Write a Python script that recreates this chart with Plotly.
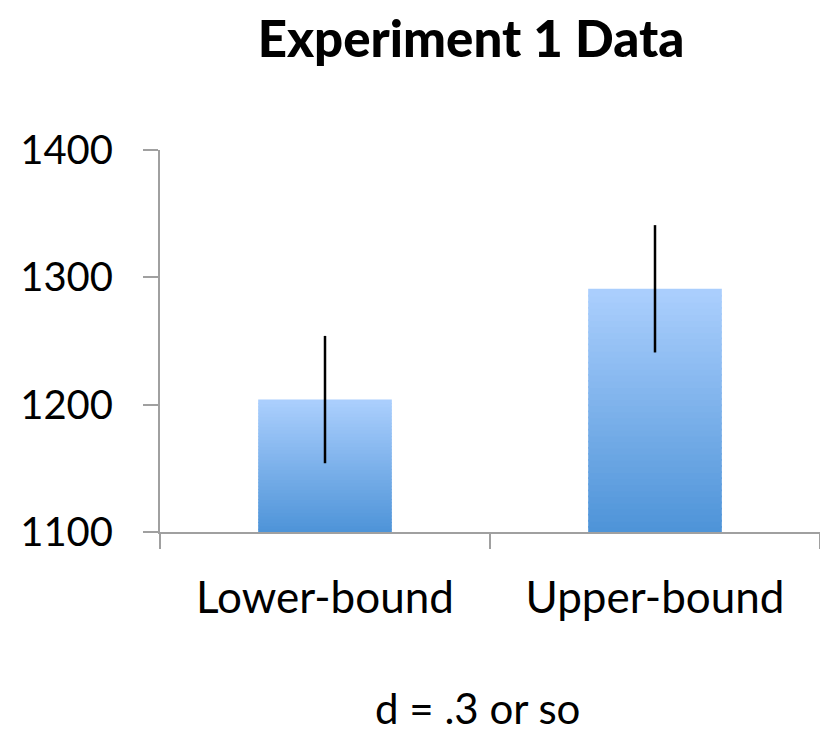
import plotly.graph_objects as go

categories = ["Lower-bound", "Upper-bound"]
means = [1204, 1291]
errors = [50, 50]
y_ticks = [1100, 1200, 1300, 1400]
title_text = "Experiment 1 Data"
x_title = "d = .3 or so"

BASE = 1100
N = 40
top_rgb = (170, 206, 253)
bot_rgb = (78, 148, 216)

fig = go.Figure()
heights = [m - BASE for m in means]
for j in range(N):
    f = j / (N - 1)
    r = round(bot_rgb[0] + (top_rgb[0] - bot_rgb[0]) * f)
    g = round(bot_rgb[1] + (top_rgb[1] - bot_rgb[1]) * f)
    b = round(bot_rgb[2] + (top_rgb[2] - bot_rgb[2]) * f)
    seg = [h / N for h in heights]
    ov = [s * 0.3 if j > 0 else 0 for s in seg]
    fig.add_trace(go.Bar(
        x=categories,
        y=[s + o for s, o in zip(seg, ov)],
        base=[BASE + j * s - o for s, o in zip(seg, ov)],
        marker=dict(color=f"rgb({r},{g},{b})", line=dict(width=0)),
        width=0.405,
        showlegend=False,
        hoverinfo="skip",
    ))

fig.add_trace(go.Scatter(
    x=categories, y=means, mode="markers",
    marker=dict(size=1, color="rgba(0,0,0,0)"),
    error_y=dict(type="data", array=errors, visible=True, color="black",
                 thickness=2.5, width=0),
    showlegend=False,
))

FONT = "Lato"
fig.update_layout(
    width=820, height=734,
    margin=dict(l=160, r=0, t=150, b=202),
    paper_bgcolor="white", plot_bgcolor="white",
    barmode="overlay",
    title=dict(text=title_text, x=471 / 820, xref="container",
               xanchor="center", y=1 - 39 / 734, yref="container", yanchor="middle",
               font=dict(family=FONT, size=51, color="black", weight=900)),
    font=dict(family=FONT, color="black"),
    annotations=[dict(
        text=x_title, xref="paper", yref="paper",
        x=(477 - 160) / 660, y=-(708 - 532) / 382,
        xanchor="center", yanchor="middle", showarrow=False, borderpad=0,
        font=dict(family=FONT, size=42, color="black"),
    )],
)
fig.update_yaxes(
    range=[1100, 1400], tickvals=y_ticks, showgrid=False, zeroline=False,
    showline=True, linecolor="#a0a0a0", linewidth=2,
    ticks="outside", ticklen=15, tickwidth=2, tickcolor="#a0a0a0",
    ticklabelstandoff=22, tickfont=dict(family=FONT, size=40, color="black"),
)
fig.update_xaxes(
    showgrid=False, zeroline=False,
    showline=True, linecolor="#a0a0a0", linewidth=2,
    ticks="outside", ticklen=15, tickwidth=2, tickcolor="#a0a0a0",
    tickson="boundaries", ticklabelstandoff=26,
    tickfont=dict(family=FONT, size=44, color="black"),
)

fig.write_html("out.html", config={"displayModeBar": False},
               post_script="document.body.style.margin='0';")
